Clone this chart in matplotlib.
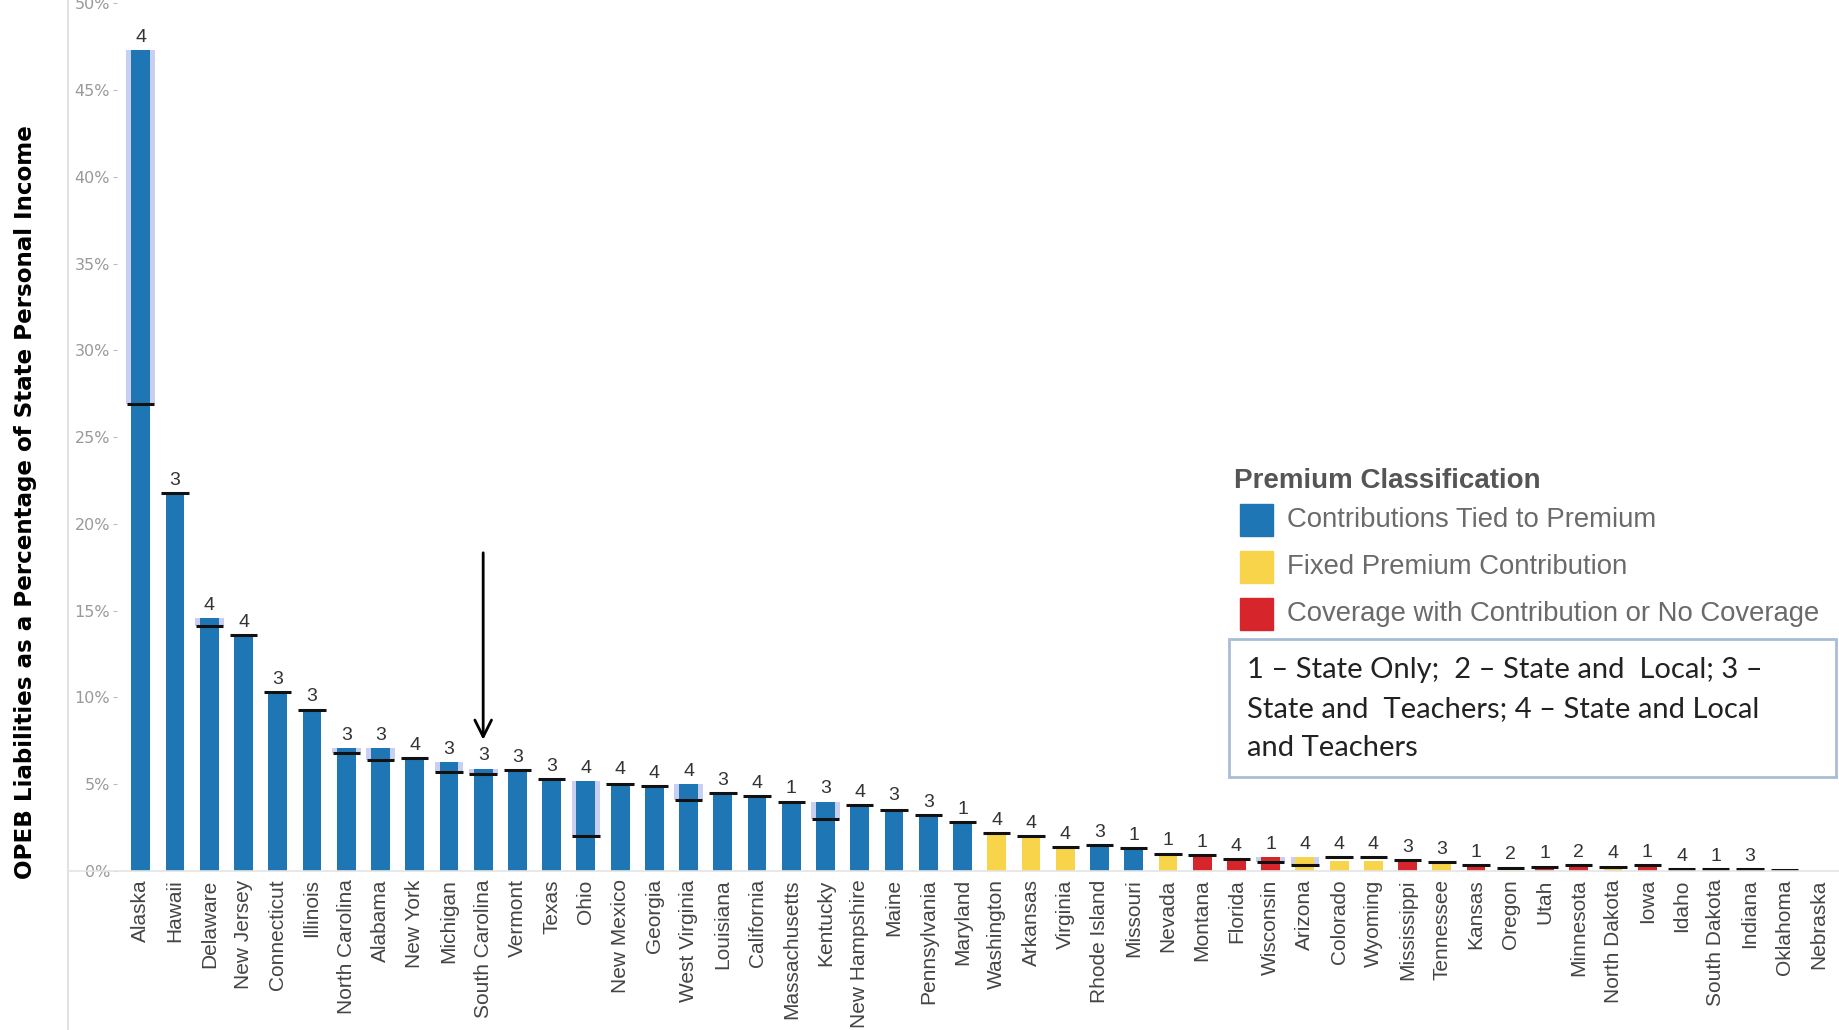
import numpy as np
import matplotlib.pyplot as plt
from matplotlib.patches import Rectangle, FancyBboxPatch
from matplotlib.lines import Line2D

# OPEB liabilities as % of state personal income
states = ["Alaska", "Hawaii", "Delaware", "New Jersey", "Connecticut", "Illinois",
          "North Carolina", "Alabama", "New York", "Michigan", "South Carolina", "Vermont",
          "Texas", "Ohio", "New Mexico", "Georgia", "West Virginia", "Louisiana",
          "California", "Massachusetts", "Kentucky", "New Hampshire", "Maine",
          "Pennsylvania", "Maryland", "Washington", "Arkansas", "Virginia",
          "Rhode Island", "Missouri", "Nevada", "Montana", "Florida", "Wisconsin",
          "Arizona", "Colorado", "Wyoming", "Mississippi", "Tennessee", "Kansas",
          "Oregon", "Utah", "Minnesota", "North Dakota", "Iowa", "Idaho",
          "South Dakota", "Indiana", "Oklahoma", "Nebraska"]
values = [47.3, 21.8, 14.6, 13.6, 10.3, 9.3, 7.1, 7.1, 6.5, 6.3, 5.9, 5.8,
          5.3, 5.2, 5.1, 4.9, 5.0, 4.5, 4.3, 4.0, 4.0, 3.8, 3.6, 3.2, 2.8,
          2.2, 2.0, 1.4, 1.5, 1.3, 1.0, 0.9, 0.7, 0.8, 0.8, 0.6, 0.6, 0.6,
          0.45, 0.35, 0.2, 0.25, 0.35, 0.2, 0.35, 0.05, 0.05, 0.05, 0.02, 0.0]
markers = [26.9, 21.8, 14.1, 13.6, 10.3, 9.3, 6.8, 6.4, 6.5, 5.7, 5.6, 5.8,
           5.3, 2.0, 5.0, 4.9, 4.1, 4.5, 4.3, 4.0, 3.0, 3.8, 3.5, 3.2, 2.8,
           2.2, 2.0, 1.4, 1.5, 1.3, 1.0, 0.9, 0.7, 0.5, 0.35, 0.8, 0.8, 0.65,
           0.5, 0.35, 0.2, 0.25, 0.35, 0.25, 0.35, 0.1, 0.1, 0.1, 0.05, np.nan]
plan_type = ["4", "3", "4", "4", "3", "3", "3", "3", "4", "3", "3", "3",
             "3", "4", "4", "4", "4", "3", "4", "1", "3", "4", "3", "3", "1",
             "4", "4", "4", "3", "1", "1", "1", "4", "1", "4", "4", "4", "3",
             "3", "1", "2", "1", "2", "4", "1", "4", "1", "3", "", ""]
premium = ["T"] * 25 + ["F", "F", "F", "T", "T", "F", "C", "C", "C", "F", "F", "F",
                        "C", "F", "C", "F", "C", "C", "F", "C", "T", "T", "T", "T", "T"]

premium_labels = ["Contributions Tied to Premium", "Fixed Premium Contribution",
                  "Coverage with Contribution or No Coverage"]
premium_colors = {"T": "#1f76b4", "F": "#f7d44a", "C": "#d6262b"}
band_color = "#c9cff0"

W, H = 1839, 1030
fig = plt.figure(figsize=(W / 100, H / 100), dpi=100)
ax = fig.add_axes([117 / W, 1 - 871 / H, 1 - 117 / W, 871 / H])

x = np.arange(len(states))
vals = np.array(values)
mk = np.array(markers)

# light band between reference line and bar top
low = np.where(mk < vals, mk, vals)
ax.bar(x, vals - np.nan_to_num(low), bottom=np.nan_to_num(low), width=0.84,
       color=band_color, zorder=1)
ax.bar(x, vals, width=0.55, color=[premium_colors[p] for p in premium], zorder=2)
ax.hlines(mk, x - 0.4, x + 0.4, color="#111111", lw=2.2, zorder=3)

for xi, v, m, t in zip(x, vals, mk, plan_type):
    top = np.nanmax([v, m])
    ax.annotate(t, (xi, top), xytext=(0, 3), textcoords="offset points",
                ha="center", va="bottom", fontsize=14, color="#333333",
                family="Liberation Sans")

ax.set_xlim(-0.695, 49.6)
ax.set_ylim(0, 50.2)
ax.set_yticks(np.arange(0, 51, 5))
ax.set_yticklabels([f"{v}%" for v in range(0, 51, 5)])
ax.tick_params(axis="y", colors="#bbbbbb", labelcolor="#999999", labelsize=11.5,
               length=3, pad=2)
ax.set_xticks(x)
ax.set_xticklabels(states, rotation=90, fontsize=15, color="#444444",
                   family="Liberation Sans")
ax.tick_params(axis="x", length=0, pad=6)
for s in ax.spines.values():
    s.set_visible(False)

# outer grey frame lines
fig.add_artist(Line2D([68 / W, 68 / W], [0, 1], color="#dddddd", lw=1.2))
fig.add_artist(Line2D([68 / W, 1], [1 - 871 / H, 1 - 871 / H], color="#e4e4e4", lw=1.2))

fig.text(26 / W, 0.513, "OPEB Liabilities as a Percentage of State Personal Income",
         rotation=90, ha="center", va="center", fontsize=16.6, fontweight="bold",
         color="black", family="DejaVu Sans")

# arrow pointing at South Carolina
ax.annotate("", xy=(10, 7.4), xytext=(10, 18.5),
            arrowprops=dict(arrowstyle="->", lw=2, color="black", mutation_scale=30))

# premium classification legend
fig.text(1234 / W, 1 - 481 / H, "Premium Classification", fontsize=20,
         fontweight="bold", color="#555555", va="center", family="Liberation Sans")
for i, (key, lab) in enumerate(zip(["T", "F", "C"], premium_labels)):
    yc = 520 + i * 47
    fig.add_artist(Rectangle((1240 / W, 1 - (yc + 16) / H), 33 / W, 32 / H,
                             transform=fig.transFigure, color=premium_colors[key]))
    fig.text(1287 / W, 1 - yc / H, lab, fontsize=19.8, color="#6a6a6a",
             va="center", family="Liberation Sans")

# plan type note box
fig.add_artist(FancyBboxPatch((1229 / W, 1 - 777 / H), 607 / W, 138 / H,
                              boxstyle="square,pad=0", transform=fig.transFigure,
                              facecolor="white", edgecolor="#a9bdd6", lw=2))
note = ["1 \u2013 State Only;  2 \u2013 State and  Local; 3 \u2013",
        "State and  Teachers; 4 \u2013 State and Local",
        "and Teachers"]
for i, line in enumerate(note):
    fig.text(1247 / W, 1 - (670 + i * 39) / H, line, fontsize=21, color="#222222",
             va="center", family="Lato")

fig.savefig("out.png", dpi=100)
